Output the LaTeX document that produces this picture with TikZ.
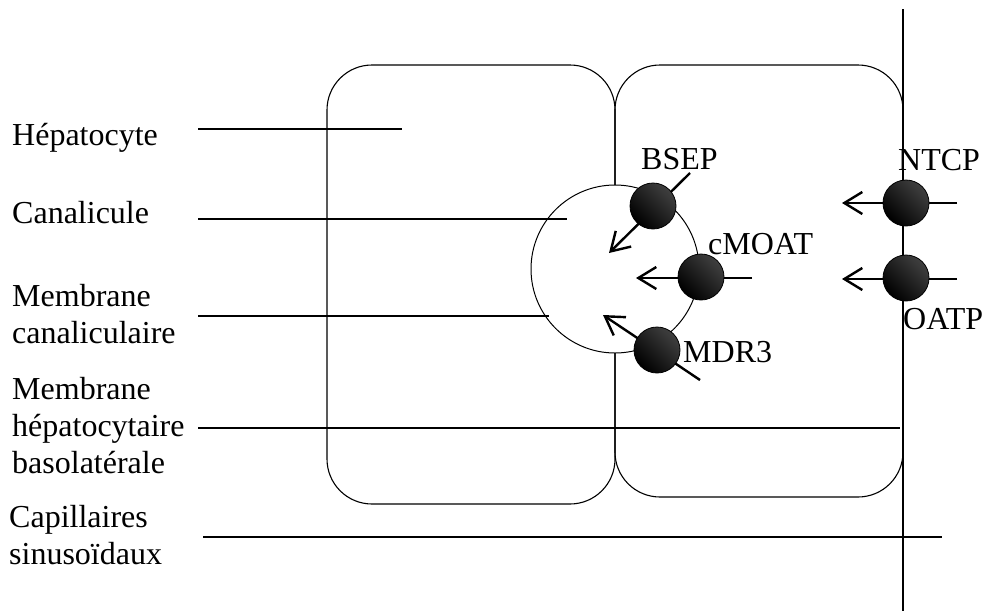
\documentclass[tikz,border=0pt]{standalone}
\usepackage{fontspec}
\setmainfont{Liberation Serif}
\usetikzlibrary{arrows.meta}
\begin{document}
\begin{tikzpicture}[x=1pt,y=-1pt,
  cell/.style={draw=black, line width=1.1pt, rounded corners=45pt, inner sep=0pt},
  lead/.style={line width=2.2pt},
  transport/.style={line width=2.4pt, -{Straight Barb[length=18pt,width=22pt,line width=2.4pt]}},
  pump/.style={circle, minimum size=46pt, inner sep=0pt, draw=black, line width=0.8pt,
    top color=black!75, bottom color=black, shading angle=-45},
  lbl/.style={inner sep=0pt, anchor=base west, align=left, font=\fontsize{32}{37}\selectfont},
]
\useasboundingbox (0,0) rectangle (988,611);

% two hepatocytes
\node[cell, minimum width=288pt, minimum height=439pt] (cellL) at (471,284.5) {};
\node[cell, minimum width=288pt, minimum height=432pt] (cellR) at (759,281) {};

% bile canaliculus between the cells
\node[circle, draw=black, fill=white, line width=1pt, minimum size=168pt, inner sep=0pt] (canal) at (615,269) {};

% sinusoidal border
\coordinate (sinTop) at (903,9);
\coordinate (sinBot) at (903,611);
\draw[line width=2.6pt] (sinTop) -- (sinBot);

% leader lines
\coordinate (hA) at (198,129);   \coordinate (hB) at (402,129);
\coordinate (cA) at (198,219);   \coordinate (cB) at (567,219);
\coordinate (mA) at (198,316);   \coordinate (mB) at (549,316);
\coordinate (bA) at (198,428);   \coordinate (bB) at (900,428);
\coordinate (sA) at (203,537);   \coordinate (sB) at (942,537);
\draw[lead] (hA) -- (hB);
\draw[lead] (cA) -- (cB);
\draw[lead] (mA) -- (mB);
\draw[lead] (bA) -- (bB);
\draw[lead] (sA) -- (sB);

% transport directions
\coordinate (bsepIn) at (690,173);  \coordinate (bsepOut) at (609,253);
\coordinate (cmoIn) at (752,278);   \coordinate (cmoOut) at (636,278);
\coordinate (mdrIn) at (700,380);   \coordinate (mdrOut) at (603,315);
\coordinate (ntcpIn) at (957,203);  \coordinate (ntcpOut) at (842,203);
\coordinate (oatpIn) at (957,279);  \coordinate (oatpOut) at (842,279);
\draw[transport] (bsepIn) -- (bsepOut);
\draw[transport] (cmoIn) -- (cmoOut);
\draw[transport] (mdrIn) -- (mdrOut);
\draw[transport] (ntcpIn) -- (ntcpOut);
\draw[transport] (oatpIn) -- (oatpOut);

% transporters
\node[pump] (bsep) at (653,206) {};
\node[pump] (cmoat) at (701,277) {};
\node[pump] (mdr) at (657,350) {};
\node[pump] (ntcp) at (906,203) {};
\node[pump] (oatp) at (906,278) {};

% transporter names
\node[lbl] (tBSEP) at (641,169) {BSEP};
\node[lbl] (tCMOAT) at (708,254) {cMOAT};
\node[lbl] (tMDR) at (683,362) {MDR3};
\node[lbl] (tNTCP) at (898,170) {NTCP};
\node[lbl] (tOATP) at (903,329) {OATP};

% structure names (multi-line nodes sit on their last baseline)
\node[lbl] (lHep) at (12,145) {Hépatocyte};
\node[lbl] (lCan) at (12,223) {Canalicule};
\node[lbl] (lMc) at (12,343) {Membrane\\canaliculaire};
\node[lbl] (lMb) at (12,473) {Membrane\\hépatocytaire\\basolatérale};
\node[lbl] (lCap) at (9,564) {Capillaires\\sinusoïdaux};
\end{tikzpicture}
\end{document}
